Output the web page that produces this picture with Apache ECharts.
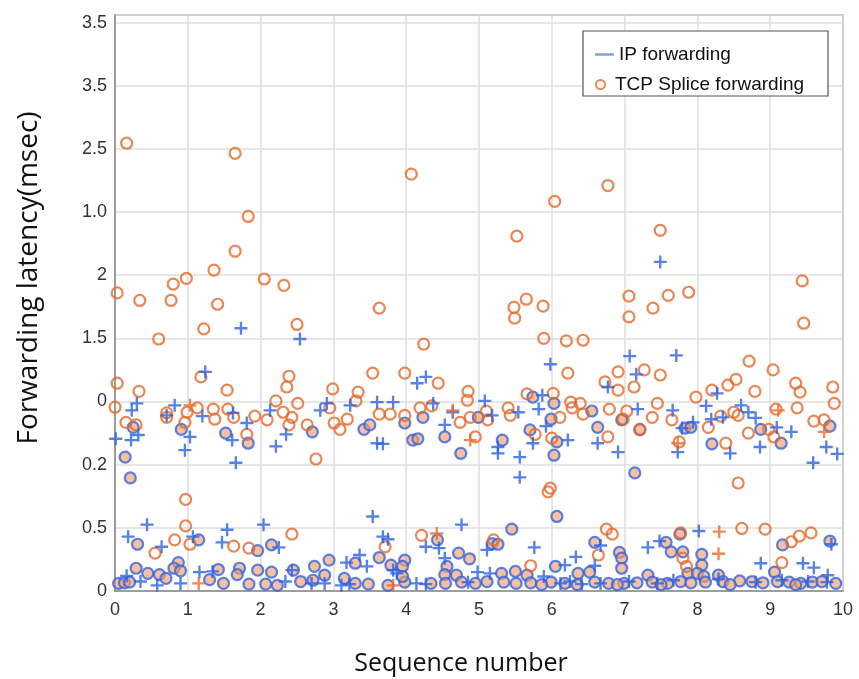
<!DOCTYPE html>
<html>
<head>
<meta charset="utf-8">
<script src="https://cdn.jsdelivr.net/npm/echarts@6/dist/echarts.min.js"></script>
<style>html,body{margin:0;padding:0;background:#fff;}#chart{width:859px;height:679px;}</style>
</head>
<body>
<div id="chart"></div>
<script>
// Tick labels as printed in the reference (one y label per gridline, bottom to top)
const xTickLabels = ['0','1','2','3','4','5','6','7','8','9','10'];
const yTickLabels = ['0','0.5','0.2','0','1.5','2','1.0','2.5','3.5','3.5'];

// TCP Splice forwarding: orange hollow circles  [sequence, gridline-position]
const tcpCircles = [
[0.16,7.09],[0.03,4.72],[0.34,4.60],[0.60,3.99],[0.77,4.60],[0.80,4.86],[0.98,4.95],[1.22,4.15],[1.36,5.08],[1.41,4.54],[1.65,6.93],[1.65,5.38],[1.83,5.93],[2.05,4.94],[2.32,4.84],[2.50,4.22],[3.63,4.48],[4.07,6.60],[4.24,3.91],[5.48,4.49],[5.49,4.32],[5.52,5.62],[5.65,4.62],[5.88,4.51],[5.89,4.00],[6.04,6.17],[6.20,3.96],[6.43,3.97],[6.77,6.42],[7.06,4.67],[7.06,4.34],[7.39,4.48],[7.49,5.71],[7.60,4.68],[7.88,4.73],[9.44,4.91],[9.46,4.24],[8.71,3.64],
[0.03,3.29],[0.33,3.16],[0.00,2.91],[0.15,2.67],[0.29,2.63],[1.18,3.39],[0.71,2.82],[0.71,2.75],[0.99,2.83],[0.96,2.67],[1.13,2.90],[1.35,2.88],[1.37,2.72],[1.54,3.18],[1.55,2.88],[1.63,2.75],[1.81,2.48],[2.39,3.40],[2.36,3.23],[2.21,3.01],[2.31,2.83],[2.43,2.75],[2.39,2.63],[2.09,2.71],[1.92,2.77],[2.51,2.97],[2.64,2.63],[2.76,2.09],[2.99,3.20],[2.95,2.90],[3.01,2.66],[3.09,2.56],[3.19,2.72],[3.34,3.15],[3.31,3.01],[3.54,3.45],[3.63,2.80],[3.78,2.80],[3.98,3.45],[3.98,2.78],[4.19,2.90],[4.44,3.29],[4.35,2.93],[4.85,3.16],[4.84,3.02],[4.74,2.67],[4.88,2.75],[4.95,2.44],
[6.22,3.45],[6.91,3.47],[6.73,3.31],[6.91,3.18],[7.13,3.23],[7.27,3.50],[7.49,3.42],[5.66,3.12],[6.02,3.13],[6.26,2.99],[6.39,2.97],[6.28,2.90],[6.43,2.80],[5.10,2.85],[5.12,2.71],[5.40,2.90],[5.43,2.78],[6.11,2.75],[5.77,2.48],[6.00,2.42],[6.79,2.88],[7.03,2.85],[6.98,2.72],[6.77,2.44],[7.45,2.97],[7.38,2.75],[7.21,2.55],[7.65,2.71],[7.98,3.07],[8.20,3.18],[8.15,2.59],[8.32,2.77],[8.42,3.26],[8.53,3.35],[8.50,2.83],[8.56,2.78],[8.79,3.16],[9.04,3.50],[9.08,2.88],[8.70,2.50],[8.39,2.34],[8.56,1.71],[8.98,2.56],[9.05,2.44],[9.35,3.29],[9.41,3.15],[9.37,2.90],[9.60,2.69],[9.74,2.71],[9.86,3.23],[9.88,2.97],[7.75,2.36],[5.98,1.63],
[0.97,1.45],[0.97,1.03],[0.55,0.60],[0.82,0.81],[1.03,0.74],[1.63,0.71],[1.84,0.68],[2.43,0.90],[3.71,0.70],[4.21,0.88],[5.20,0.81],[5.95,1.57],[5.71,0.40],[6.75,0.98],[6.83,0.90],[6.64,0.57],[7.77,0.92],[7.80,0.52],[8.61,0.99],[8.93,0.98],[9.16,0.45],[9.40,0.87],[9.56,0.92],[7.85,0.39],[9.29,0.78]
];

// IP forwarding: blue circles (overlapping points, peach centre)
const ipCircles = [
[0.14,2.12],[0.21,1.79],[0.25,2.59],[0.91,2.56],[1.52,2.50],[1.83,2.34],[2.71,2.52],[3.42,2.56],[3.50,2.63],[3.98,2.66],[4.09,2.39],[4.16,2.41],[4.23,2.75],[4.53,2.44],[4.75,2.18],
[4.99,2.75],[5.32,2.39],[5.74,3.07],[5.70,2.55],[5.99,2.72],[6.03,2.97],[6.03,2.15],[6.07,2.36],[6.55,2.85],[6.63,2.59],[6.96,2.71],[7.21,2.56],[7.83,2.58],[7.91,2.59],[8.20,2.33],[8.87,2.56],[9.15,2.34],[9.82,2.61],[7.14,1.87],
[6.07,1.18],[5.45,0.98],[0.31,0.74],[1.15,0.81],[1.96,0.64],[2.15,0.73],[4.43,0.81],[5.18,0.75],[5.26,0.74],[6.59,0.77],[7.57,0.77],[7.76,0.90],[9.17,0.73],[9.82,0.79],[4.72,0.60],[4.87,0.51],[3.63,0.53],[3.98,0.49],[2.94,0.49],[6.93,0.61],[6.96,0.52],[7.64,0.62],[8.06,0.58],[8.06,0.41],[7.80,0.62],[0.87,0.45],[0.29,0.36],[0.81,0.36],[1.42,0.34],[1.71,0.36],[1.96,0.33],[2.15,0.30],[2.45,0.33],[2.74,0.39],[3.30,0.44],[3.79,0.41],[3.95,0.39],[4.56,0.39],[4.69,0.25],[4.53,0.26],[5.31,0.28],[5.50,0.31],[5.66,0.25],[6.05,0.39],[6.36,0.28],[6.52,0.30],[6.96,0.36],[7.32,0.25],[7.87,0.28],[8.00,0.28],[8.29,0.25],[9.06,0.30],[8.09,0.23],[0.61,0.26],[0.90,0.32],[0.45,0.28],
[0.05,0.12],[0.13,0.13],[1.49,0.12],[1.84,0.11],[2.07,0.11],[2.23,0.09],[3.30,0.12],[3.48,0.11],[3.75,0.09],[3.98,0.14],[4.34,0.12],[4.54,0.12],[4.76,0.14],[5.11,0.15],[5.34,0.14],[5.51,0.12],[5.71,0.13],[5.99,0.14],[6.18,0.12],[6.59,0.14],[6.78,0.12],[6.99,0.12],[7.17,0.13],[7.38,0.14],[7.59,0.12],[7.77,0.15],[7.91,0.13],[8.11,0.14],[8.35,0.15],[8.58,0.16],[8.75,0.15],[8.90,0.13],[9.10,0.15],[9.26,0.14],[9.42,0.12],[9.58,0.14],[9.71,0.15],[2.72,0.17],[3.95,0.23],[2.88,0.25],[1.68,0.26],
[0.20,0.14],[0.70,0.20],[1.30,0.18],[2.55,0.15],[3.15,0.20],[4.95,0.12],[5.86,0.10],[6.35,0.10],[6.90,0.10],[7.50,0.10],[8.45,0.10],[9.35,0.10],[9.90,0.12]
];

// IP forwarding: blue plus markers
const ipPlus = [
[1.73,4.16],[2.54,3.99],[7.49,5.21],[7.07,3.72],[7.71,3.73],
[0.01,2.41],[0.23,2.86],[0.30,2.97],[0.22,2.39],[0.32,2.47],[0.82,2.94],[0.71,2.78],[1.03,2.44],[0.96,2.23],[1.20,2.77],[1.24,3.47],[1.61,2.39],[1.62,2.82],[1.66,2.03],[1.81,2.66],[2.13,2.86],[2.21,2.29],[2.35,2.48],[2.82,2.86],[2.91,2.97],[3.23,2.94],[3.60,2.99],[3.60,2.34],[3.68,2.33],[3.82,2.99],[4.15,3.29],[4.27,3.39],[4.37,2.97],[4.53,2.63],[4.64,2.83],
[5.08,3.01],[5.18,2.78],[5.54,2.83],[5.82,2.88],[5.87,3.10],[5.98,3.59],[5.92,2.61],[5.26,2.28],[5.26,2.18],[5.56,2.12],[5.56,1.80],[5.74,2.34],[6.22,2.39],[6.63,2.34],[6.91,2.20],[6.77,3.23],[7.16,3.43],[7.18,2.88],[7.66,2.86],[7.79,2.58],[7.94,2.67],[7.73,2.20],[8.12,2.93],[8.19,2.72],[8.27,3.13],[8.35,2.75],[8.45,2.18],[8.60,2.94],[8.70,2.83],[8.80,2.74],[8.86,2.28],[9.09,2.59],[9.29,2.52],[9.59,2.03],[9.77,2.28],[9.92,2.17],
[0.44,1.05],[0.18,0.86],[0.64,0.70],[1.07,0.86],[1.54,0.97],[2.04,1.05],[1.47,0.77],[2.25,0.69],[3.54,1.18],[3.68,0.86],[3.75,0.82],[4.76,1.05],[4.27,0.70],[4.45,0.68],[4.53,0.52],[5.11,0.65],[5.76,0.69],[6.33,0.54],[6.67,0.72],[7.32,0.69],[7.48,0.79],[8.02,0.95],[9.84,0.74],[3.36,0.57],[3.18,0.45],[3.46,0.39],[3.82,0.33],[6.18,0.41],[6.59,0.40],[8.87,0.44],[9.45,0.44],[9.60,0.37],[0.16,0.24],[0.35,0.15],[0.58,0.09],[0.90,0.12],[1.16,0.30],[1.34,0.31],[2.34,0.15],[2.43,0.33],[2.70,0.12],[2.88,0.12],[3.11,0.09],[3.22,0.11],[3.87,0.28],[4.14,0.12],[4.27,0.11],[4.85,0.14],[4.98,0.30],[5.15,0.28],[5.89,0.23],[6.12,0.12],[6.25,0.15],[6.41,0.11],[6.67,0.12],[7.06,0.15],[7.45,0.12],[7.67,0.17],[8.29,0.19],[8.80,0.14],[9.16,0.17],[9.52,0.15],[9.79,0.25],[9.78,0.14]
];

// TCP Splice forwarding: orange plus markers
const tcpPlus = [
[1.03,2.94],[4.88,2.39],[4.64,2.86],[7.73,2.34],[9.11,2.86],[9.74,2.52],[1.15,0.12],[8.30,0.94],[8.29,0.59],[3.82,0.09],[4.42,0.91]
];

const BLUE = '#2A62E2';
const ORANGE = '#E5692B';
const PLUS = 'path://M4.1,0 H5.9 V4.1 H10 V5.9 H5.9 V10 H4.1 V5.9 H0 V4.1 H4.1 Z';
const labelFont = 'Liberation Sans, Arial, sans-serif';
const titleFont = '"Open Sans", "Noto Sans", sans-serif';

const chart = echarts.init(document.getElementById('chart'), null, {renderer: 'canvas'});
chart.setOption({
  animation: false,
  backgroundColor: '#fff',
  grid: {left: 115, right: 16, top: 15, bottom: 88, show: true, borderColor: '#8c8c8c', borderWidth: 1.5, backgroundColor: 'transparent'},
  xAxis: {
    type: 'value', min: 0, max: 10, interval: 1,
    axisLine: {show: true, lineStyle: {color: '#8c8c8c', width: 1.5}},
    axisTick: {show: false},
    splitLine: {show: true, lineStyle: {color: '#dedede', width: 1.5}},
    axisLabel: {fontSize: 18, color: '#333', margin: 10, fontFamily: labelFont,
      formatter: v => (Number.isInteger(v) ? xTickLabels[v] : '')}
  },
  yAxis: {
    type: 'value', min: 0, max: 9.12, interval: 1,
    axisLine: {show: true, lineStyle: {color: '#8c8c8c', width: 1.5}},
    axisTick: {show: false},
    splitLine: {show: true, lineStyle: {color: '#dedede', width: 1.5}},
    axisLabel: {fontSize: 18, color: '#333', margin: 8, fontFamily: labelFont,
      formatter: v => (Number.isInteger(v) ? yTickLabels[v] : '')}
  },
  legend: [
    {data: [{name: 'IP forwarding', icon: 'rect'}], left: 590, top: 40, itemWidth: 19, itemHeight: 2.5, z: 20,
     itemStyle: {color: '#5B8DE8'},
     textStyle: {fontSize: 19, color: '#111', fontFamily: labelFont}},
    {data: [{name: 'TCP Splice forwarding', icon: 'circle'}], left: 590, top: 70, itemWidth: 19, itemHeight: 9, z: 20,
     itemStyle: {color: 'transparent', borderColor: ORANGE, borderWidth: 2},
     textStyle: {fontSize: 19, color: '#111', fontFamily: labelFont}}
  ],
  graphic: [
    {type: 'rect', z: 10, shape: {x: 583, y: 31, width: 245, height: 65}, style: {fill: '#fff', stroke: '#555', lineWidth: 1.2}},
    {type: 'text', z: 10, x: 29, y: 278, rotation: Math.PI / 2,
     style: {text: 'Forwarding latency(msec)', font: '28px ' + titleFont, fill: '#111', textAlign: 'center', textVerticalAlign: 'middle'}},
    {type: 'text', z: 10, x: 461, y: 664,
     style: {text: 'Sequence number', font: '25px ' + titleFont, fill: '#111', textAlign: 'center', textVerticalAlign: 'middle'}}
  ],
  series: [
    {name: 'IP forwarding', type: 'scatter', data: ipPlus, symbol: PLUS, symbolSize: 13, z: 4,
     itemStyle: {color: BLUE}},
    {name: 'TCP Splice forwarding', type: 'scatter', data: tcpCircles, symbol: 'circle', symbolSize: 11, z: 3,
     itemStyle: {color: 'transparent', borderColor: ORANGE, borderWidth: 2.2}},
    {name: 'IP forwarding', type: 'scatter', data: ipCircles, symbol: 'circle', symbolSize: 11, z: 2,
     itemStyle: {color: 'rgba(238,160,110,0.8)', borderColor: '#3563E0', borderWidth: 2.2}},
    {name: 'TCP Splice forwarding', type: 'scatter', data: tcpPlus, symbol: PLUS, symbolSize: 13, z: 4,
     itemStyle: {color: '#EE6A28'}}
  ]
});
</script>
</body>
</html>
